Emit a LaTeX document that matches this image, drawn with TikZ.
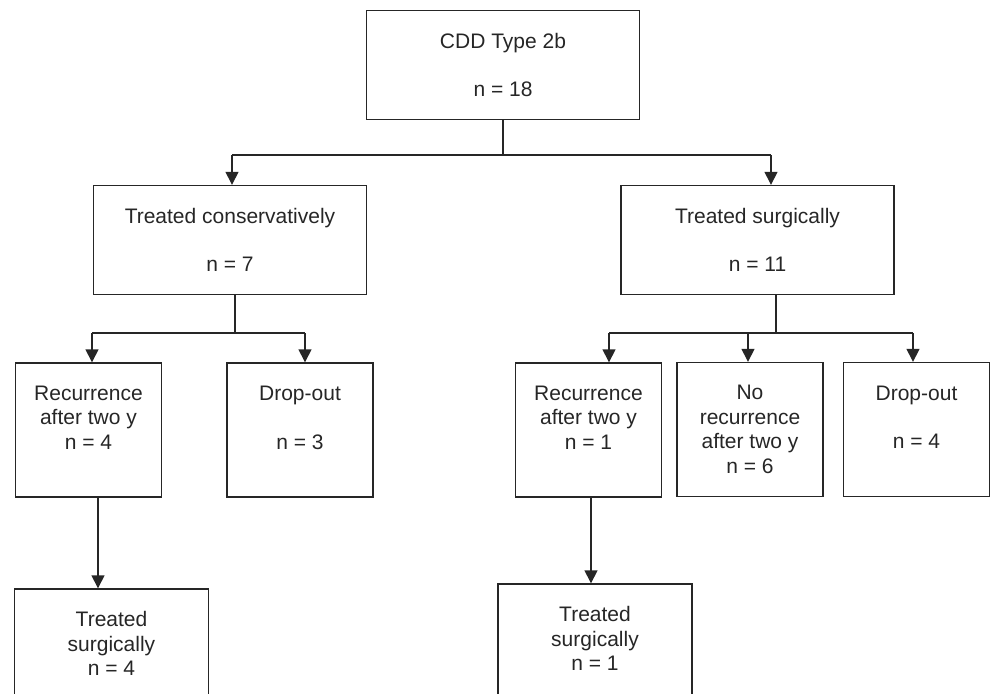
\documentclass[tikz,border=0pt]{standalone}
\usepackage{fontspec}
\setmainfont{Liberation Sans}
\usetikzlibrary{arrows.meta}
\tikzset{
    every node/.append style={font=\fontsize{10.5}{12.3}\selectfont}}

\begin{document}
\begin{tikzpicture}
  [x=0.5pt,y=-0.5pt,line width=0.7pt,draw=black!85,text=black!85,
   >={Triangle[length=6.5pt,width=6.5pt]},
   box/.style={draw,rectangle,align=center,inner sep=0pt},
   wide/.style={box,minimum width=136.5pt,minimum height=54.5pt},
   narrow/.style={box,minimum width=73pt,minimum height=67pt},
   low/.style={box,minimum width=97pt,minimum height=67pt}]
  \useasboundingbox (0,0) rectangle (990,693);
  \clip (0,0) rectangle (990,693);
  \node [wide] (cdd) at (503,65) {CDD Type 2b\\[12pt]n = 18};
  \node [wide] (cons) at (230,240) {Treated conservatively\\[12pt]n = 7};
  \node [wide] (surg) at (757.5,240) {Treated surgically\\[12pt]n = 11};
  \node [narrow] (rec1) at (88.5,430) {Recurrence\\after two y\\n = 4\\\mbox{}};
  \node [narrow] (drop1) at (300,430) {Drop-out\\[12pt]n = 3\\\mbox{}};
  \node [narrow] (rec2) at (588.5,430) {Recurrence\\after two y\\n = 1\\\mbox{}};
  \node [narrow] (norec) at (750,429.5) {No\\recurrence\\after two y\\n = 6};
  \node [narrow] (drop2) at (916.5,429.5) {Drop-out\\[12pt]n = 4\\\mbox{}};
  \node [low] (surg1) at (111.5,656) {Treated\\surgically\\n = 4\\\mbox{}};
  \node [low] (surg2) at (595,651) {Treated\\surgically\\n = 1\\\mbox{}};

  % branch points
  \coordinate (j0) at (503,155);
  \coordinate (a1) at (232,155);
  \coordinate (a2) at (771,155);
  \coordinate (j1) at (235,333);
  \coordinate (b1) at (92,333);
  \coordinate (b2) at (305,333);
  \coordinate (j2) at (776,333);
  \coordinate (c1) at (609,333);
  \coordinate (c2) at (748,333);
  \coordinate (c3) at (913,333);
  \coordinate (d1) at (98,540);
  \coordinate (d2) at (591,540);

  \draw (j0 |- cdd.south) -- (j0);
  \draw (a1) -- (a2);
  \draw (j1 |- cons.south) -- (j1);
  \draw (b1) -- (b2);
  \draw (j2 |- surg.south) -- (j2);
  \draw (c1) -- (c3);

  \foreach \from/\to in {a1/cons,a2/surg,b1/rec1,b2/drop1,c1/rec2,c2/norec,c3/drop2}
    \draw[->] (\from) -- (\from |- \to.north);

  \draw[->] (d1 |- rec1.south) -- (d1 |- surg1.north);
  \draw[->] (d2 |- rec2.south) -- (d2 |- surg2.north);
\end{tikzpicture}
\end{document}
